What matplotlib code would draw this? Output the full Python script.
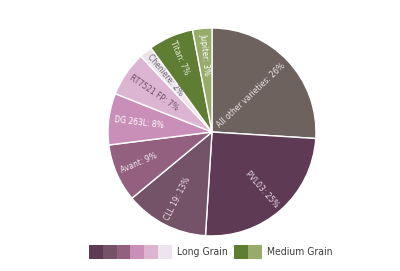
import numpy as np
import matplotlib.pyplot as plt

varieties = ['All other varieties', 'PVL03', 'CLL 19', 'Avant', 'DG 263L',
             'RT7521 FP', 'Cheniere', 'Titan', 'Jupiter']
shares = [26, 25, 13, 9, 8, 7, 2, 7, 3]
colors = ['#6e625f', '#5e3a55', '#745268', '#94607f', '#c98fb8',
          '#dcb5d3', '#ede4ee', '#5f7e33', '#97ab6a']
text_colors = ['#ebe4e4', '#eadde6', '#eadde6', '#f4eaf0', '#ffffff',
               '#6e5068', '#6a6a6a', '#e8eedd', '#ffffff']

long_colors = ['#5e3a55', '#745268', '#94607f', '#c98fb8', '#dcb5d3', '#ede4ee']
medium_colors = ['#5f7e33', '#97ab6a']

font = ['Liberation Sans Narrow', 'DejaVu Sans']

fig = plt.figure(figsize=(4, 2.71), dpi=100)
ax = fig.add_axes([0.2675, 0.1255, 0.525, 0.775])
wedges, _ = ax.pie(shares, colors=colors, startangle=90, counterclock=False,
                   wedgeprops=dict(edgecolor='white', linewidth=1.0))
ax.set_xlim(-1.01, 1.01)
ax.set_ylim(-1.01, 1.01)
ax.set_aspect('equal')

# labels run along the radius, anchored near the rim
for w, name, s, tc in zip(wedges, varieties, shares, text_colors):
    mid = (w.theta1 + w.theta2) / 2.0
    a = np.deg2rad(mid)
    r = 0.95
    x, y = r * np.cos(a), r * np.sin(a)
    ang = (mid + 180) % 360 - 180
    if -90 <= ang <= 90:
        rot, ha = ang, 'right'
    else:
        rot, ha = ang - 180 if ang > 0 else ang + 180, 'left'
    ax.text(x, y, '%s: %d%%' % (name, s), rotation=rot, rotation_mode='anchor',
            ha=ha, va='center', fontsize=6.1, color=tc, family=font,
            fontstretch='condensed')

# legend swatches
lg = fig.add_axes([0, 0, 1, 1])
lg.set_xlim(0, 400)
lg.set_ylim(271, 0)
lg.axis('off')
lg.bar(np.arange(6) * 13.8 + 89, 14, width=13.8, bottom=245, align='edge',
       color=long_colors)
lg.text(177, 252, 'Long Grain', fontsize=7.5, color='#3d3d3d', va='center',
        family=font, fontstretch='condensed')
lg.bar(np.arange(2) * 14 + 234, 14, width=14, bottom=245, align='edge',
       color=medium_colors)
lg.text(267, 252, 'Medium Grain', fontsize=7.5, color='#3d3d3d', va='center',
        family=font, fontstretch='condensed')

fig.savefig('out.png', dpi=100, facecolor='white')
